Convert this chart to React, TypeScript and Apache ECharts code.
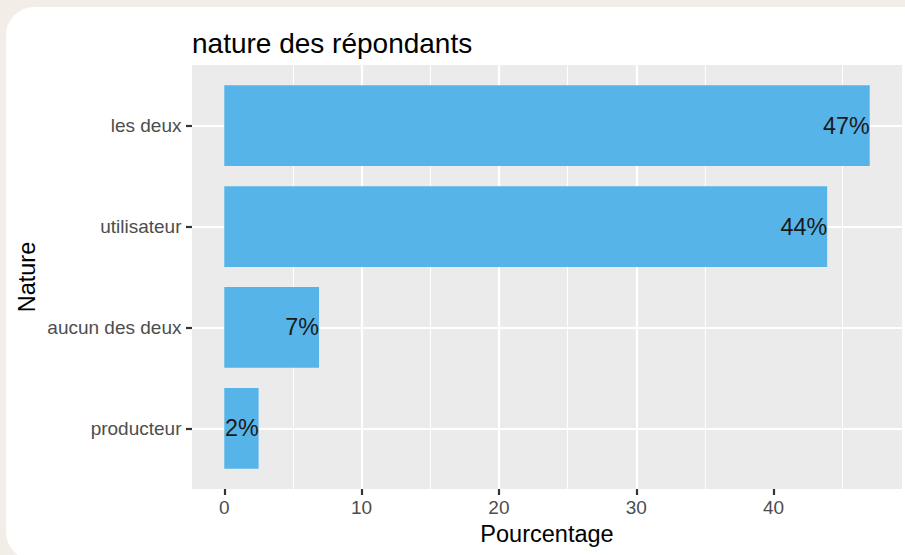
import React, { useEffect, useRef } from "react";
import * as echarts from "echarts";

const categories = ["les deux", "utilisateur", "aucun des deux", "producteur"];
const percentages = [47.0, 43.9, 6.9, 2.5];
const percentLabels = ["47%", "44%", "7%", "2%"];
const xTickValues = [0, 10, 20, 30, 40];
const titleText = "nature des répondants";
const xAxisTitle = "Pourcentage";
const yAxisTitle = "Nature";

const FONT = "'Liberation Sans', Arial, Helvetica, sans-serif";

export default function App() {
  const ref = useRef<HTMLDivElement>(null);

  useEffect(() => {
    if (!ref.current) return;
    const chart = echarts.init(ref.current, null, { renderer: "svg" });

    const H = 555;
    const maxVal = Math.max(...percentages);
    const pad = maxVal * 0.05;
    const xMin = -pad;
    const xMax = maxVal + pad;

    const panel = { left: 192, right: 3, top: 65, bottom: 66 };
    const panelH = H - panel.top - panel.bottom;
    const discreteExpand = 0.6;
    const unit = panelH / (categories.length - 1 + 2 * discreteExpand);
    const inset = (discreteExpand - 0.5) * unit;

    const option: any = {
      animation: false,
      backgroundColor: "#f2eee7",
      textStyle: { fontFamily: FONT },
      title: {
        text: titleText,
        left: 187,
        top: 24,
        textStyle: {
          fontFamily: FONT,
          fontSize: 28,
          fontWeight: "normal",
          color: "#000000",
        },
      },
      graphic: [
        {
          type: "rect",
          z: -10,
          silent: true,
          shape: { x: 6, y: 7, width: 980, height: 553, r: 28 },
          style: { fill: "#ffffff" },
        },
      ],
      grid: [
        {
          left: panel.left,
          right: panel.right,
          top: panel.top,
          bottom: panel.bottom,
          show: true,
          backgroundColor: "#ebebeb",
          borderWidth: 0,
          containLabel: false,
        },
        {
          left: panel.left,
          right: panel.right,
          top: panel.top + inset,
          bottom: panel.bottom + inset,
          show: false,
          containLabel: false,
        },
      ],
      xAxis: [
        {
          type: "value",
          gridIndex: 0,
          min: xMin,
          max: xMax,
          splitNumber: 5,
          name: xAxisTitle,
          nameLocation: "middle",
          nameGap: 31,
          nameTextStyle: { fontFamily: FONT, fontSize: 23.5, color: "#000000" },
          axisLine: { show: false, onZero: false },
          axisTick: {
            show: true,
            customValues: xTickValues,
            length: 6,
            lineStyle: { color: "#333333", width: 2.2 },
          },
          axisLabel: {
            show: true,
            customValues: xTickValues,
            margin: 9,
            fontSize: 19,
            color: "#4d4d4d",
            fontFamily: FONT,
          },
          splitLine: {
            show: true,
            showMinLine: false,
            showMaxLine: false,
            lineStyle: { color: "#ffffff", width: 2.2 },
          },
          minorTick: { show: false, splitNumber: 2 },
          minorSplitLine: {
            show: true,
            lineStyle: { color: "#ffffff", width: 1.1 },
          },
        },
        {
          type: "value",
          gridIndex: 1,
          min: xMin,
          max: xMax,
          show: false,
        },
      ],
      yAxis: [
        {
          type: "value",
          gridIndex: 0,
          min: 1 - discreteExpand,
          max: categories.length + discreteExpand,
          splitNumber: 5,
          name: yAxisTitle,
          nameLocation: "middle",
          nameGap: 153,
          nameRotate: 90,
          nameTextStyle: { fontFamily: FONT, fontSize: 23.5, color: "#000000" },
          axisLine: { show: false, onZero: false },
          axisTick: { show: false },
          axisLabel: { show: false },
          splitLine: {
            show: true,
            showMinLine: false,
            showMaxLine: false,
            lineStyle: { color: "#ffffff", width: 2.2 },
          },
        },
        {
          type: "category",
          gridIndex: 1,
          data: categories,
          inverse: true,
          axisLine: { show: false, onZero: false },
          axisTick: {
            show: true,
            alignWithLabel: true,
            length: 6,
            lineStyle: { color: "#333333", width: 2.2 },
          },
          axisLabel: {
            margin: 10.5,
            fontSize: 19,
            color: "#4d4d4d",
            fontFamily: FONT,
          },
          splitLine: { show: false },
        },
      ],
      series: [
        {
          type: "bar",
          xAxisIndex: 1,
          yAxisIndex: 1,
          data: percentages,
          barCategoryGap: "20%",
          z: 3,
          itemStyle: { color: "#56B4E9" },
          label: {
            show: true,
            position: "insideRight",
            distance: 0,
            formatter: (p: any) => percentLabels[p.dataIndex],
            fontFamily: FONT,
            fontSize: 23.3,
            color: "#1a1a1a",
          },
        },
      ],
    };

    chart.setOption(option);
    return () => {
      chart.dispose();
    };
  }, []);

  return (
    <div
      ref={ref}
      style={{ position: "fixed", left: 0, top: 0, width: 905, height: 555 }}
    />
  );
}
